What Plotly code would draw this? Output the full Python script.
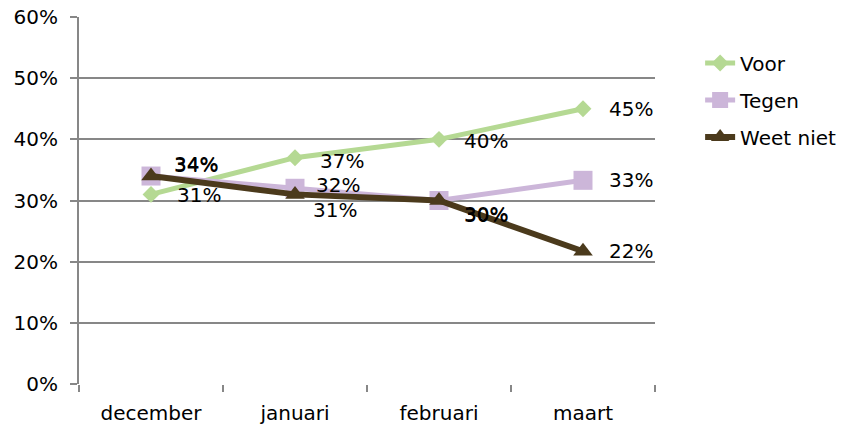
import plotly.graph_objects as go

categories = ["december", "januari", "februari", "maart"]
voor = [0.31, 0.37, 0.40, 0.45]
tegen = [0.34, 0.32, 0.30, 0.333]
weet_niet = [0.34, 0.31, 0.30, 0.217]
y_ticks = [0, 0.1, 0.2, 0.3, 0.4, 0.5, 0.6]

series = [
    ("Voor", voor, "#B5D993", "diamond", 13, 5),
    ("Tegen", tegen, "#CCB6D9", "square", 19, 5),
    ("Weet niet", weet_niet, "#4B3A1C", "triangle-up", 17, 6),
]
# label offsets (px) per point, style only
label_xshift = {
    "Voor": [24, 23, 23, 24],
    "Tegen": [21, 19, 23, 24],
    "Weet niet": [21, 16, 23, 24],
}
label_yshift = {
    "Voor": [-1, -3, -2, 0],
    "Tegen": [11, 3, -14, 0],
    "Weet niet": [12, -16, -13, 0],
}

FONT = "DejaVu Sans, Verdana, sans-serif"
fig = go.Figure()
annotations = []
for i, (name, vals, color, sym, msize, lw) in enumerate(series):
    fig.add_trace(go.Scatter(
        x=categories, y=vals, name=name, mode="lines+markers",
        line=dict(color=color, width=lw),
        marker=dict(symbol=sym, size=msize, color=color),
        legendgroup=name, cliponaxis=False,
    ))
    for j, (c, v) in enumerate(zip(categories, vals)):
        annotations.append(dict(
            x=c, y=v, xref="x", yref="y", text=f"{round(v*100)}%",
            showarrow=False, xanchor="left", yanchor="middle",
            xshift=label_xshift[name][j], yshift=label_yshift[name][j],
            font=dict(family=FONT, size=20, color="#000000"),
        ))

fig.update_layout(
    width=842, height=418,
    margin=dict(l=71, r=195, t=9, b=42),
    paper_bgcolor="white", plot_bgcolor="white",
    font=dict(family=FONT, size=20, color="#000000"),
    showlegend=True,
    legend=dict(xref="container", yref="container", x=0.822, y=0.915,
                xanchor="left", yanchor="top",
                font=dict(family=FONT, size=20), tracegroupgap=8,
                bgcolor="rgba(0,0,0,0)"),
    annotations=annotations,
)
fig.update_xaxes(
    type="category", range=[-0.5, 3.5], showgrid=False,
    showline=False, ticks="outside", tickson="boundaries",
    ticklen=7, tickwidth=2, tickcolor="#878787",
    zeroline=False, automargin=False, ticklabelstandoff=15,
    ticklabeloverflow="allow",
)
fig.update_yaxes(
    range=[0, 0.6], tickvals=y_ticks, tickformat=".0%",
    showgrid=True, gridcolor="#878787", gridwidth=2,
    showline=True, linecolor="#878787", linewidth=2,
    ticks="outside", ticklen=7, tickwidth=2, tickcolor="#878787",
    zeroline=False, ticklabelstandoff=8, automargin=False,
    ticklabeloverflow="allow",
)
fig.write_html("out.html")
